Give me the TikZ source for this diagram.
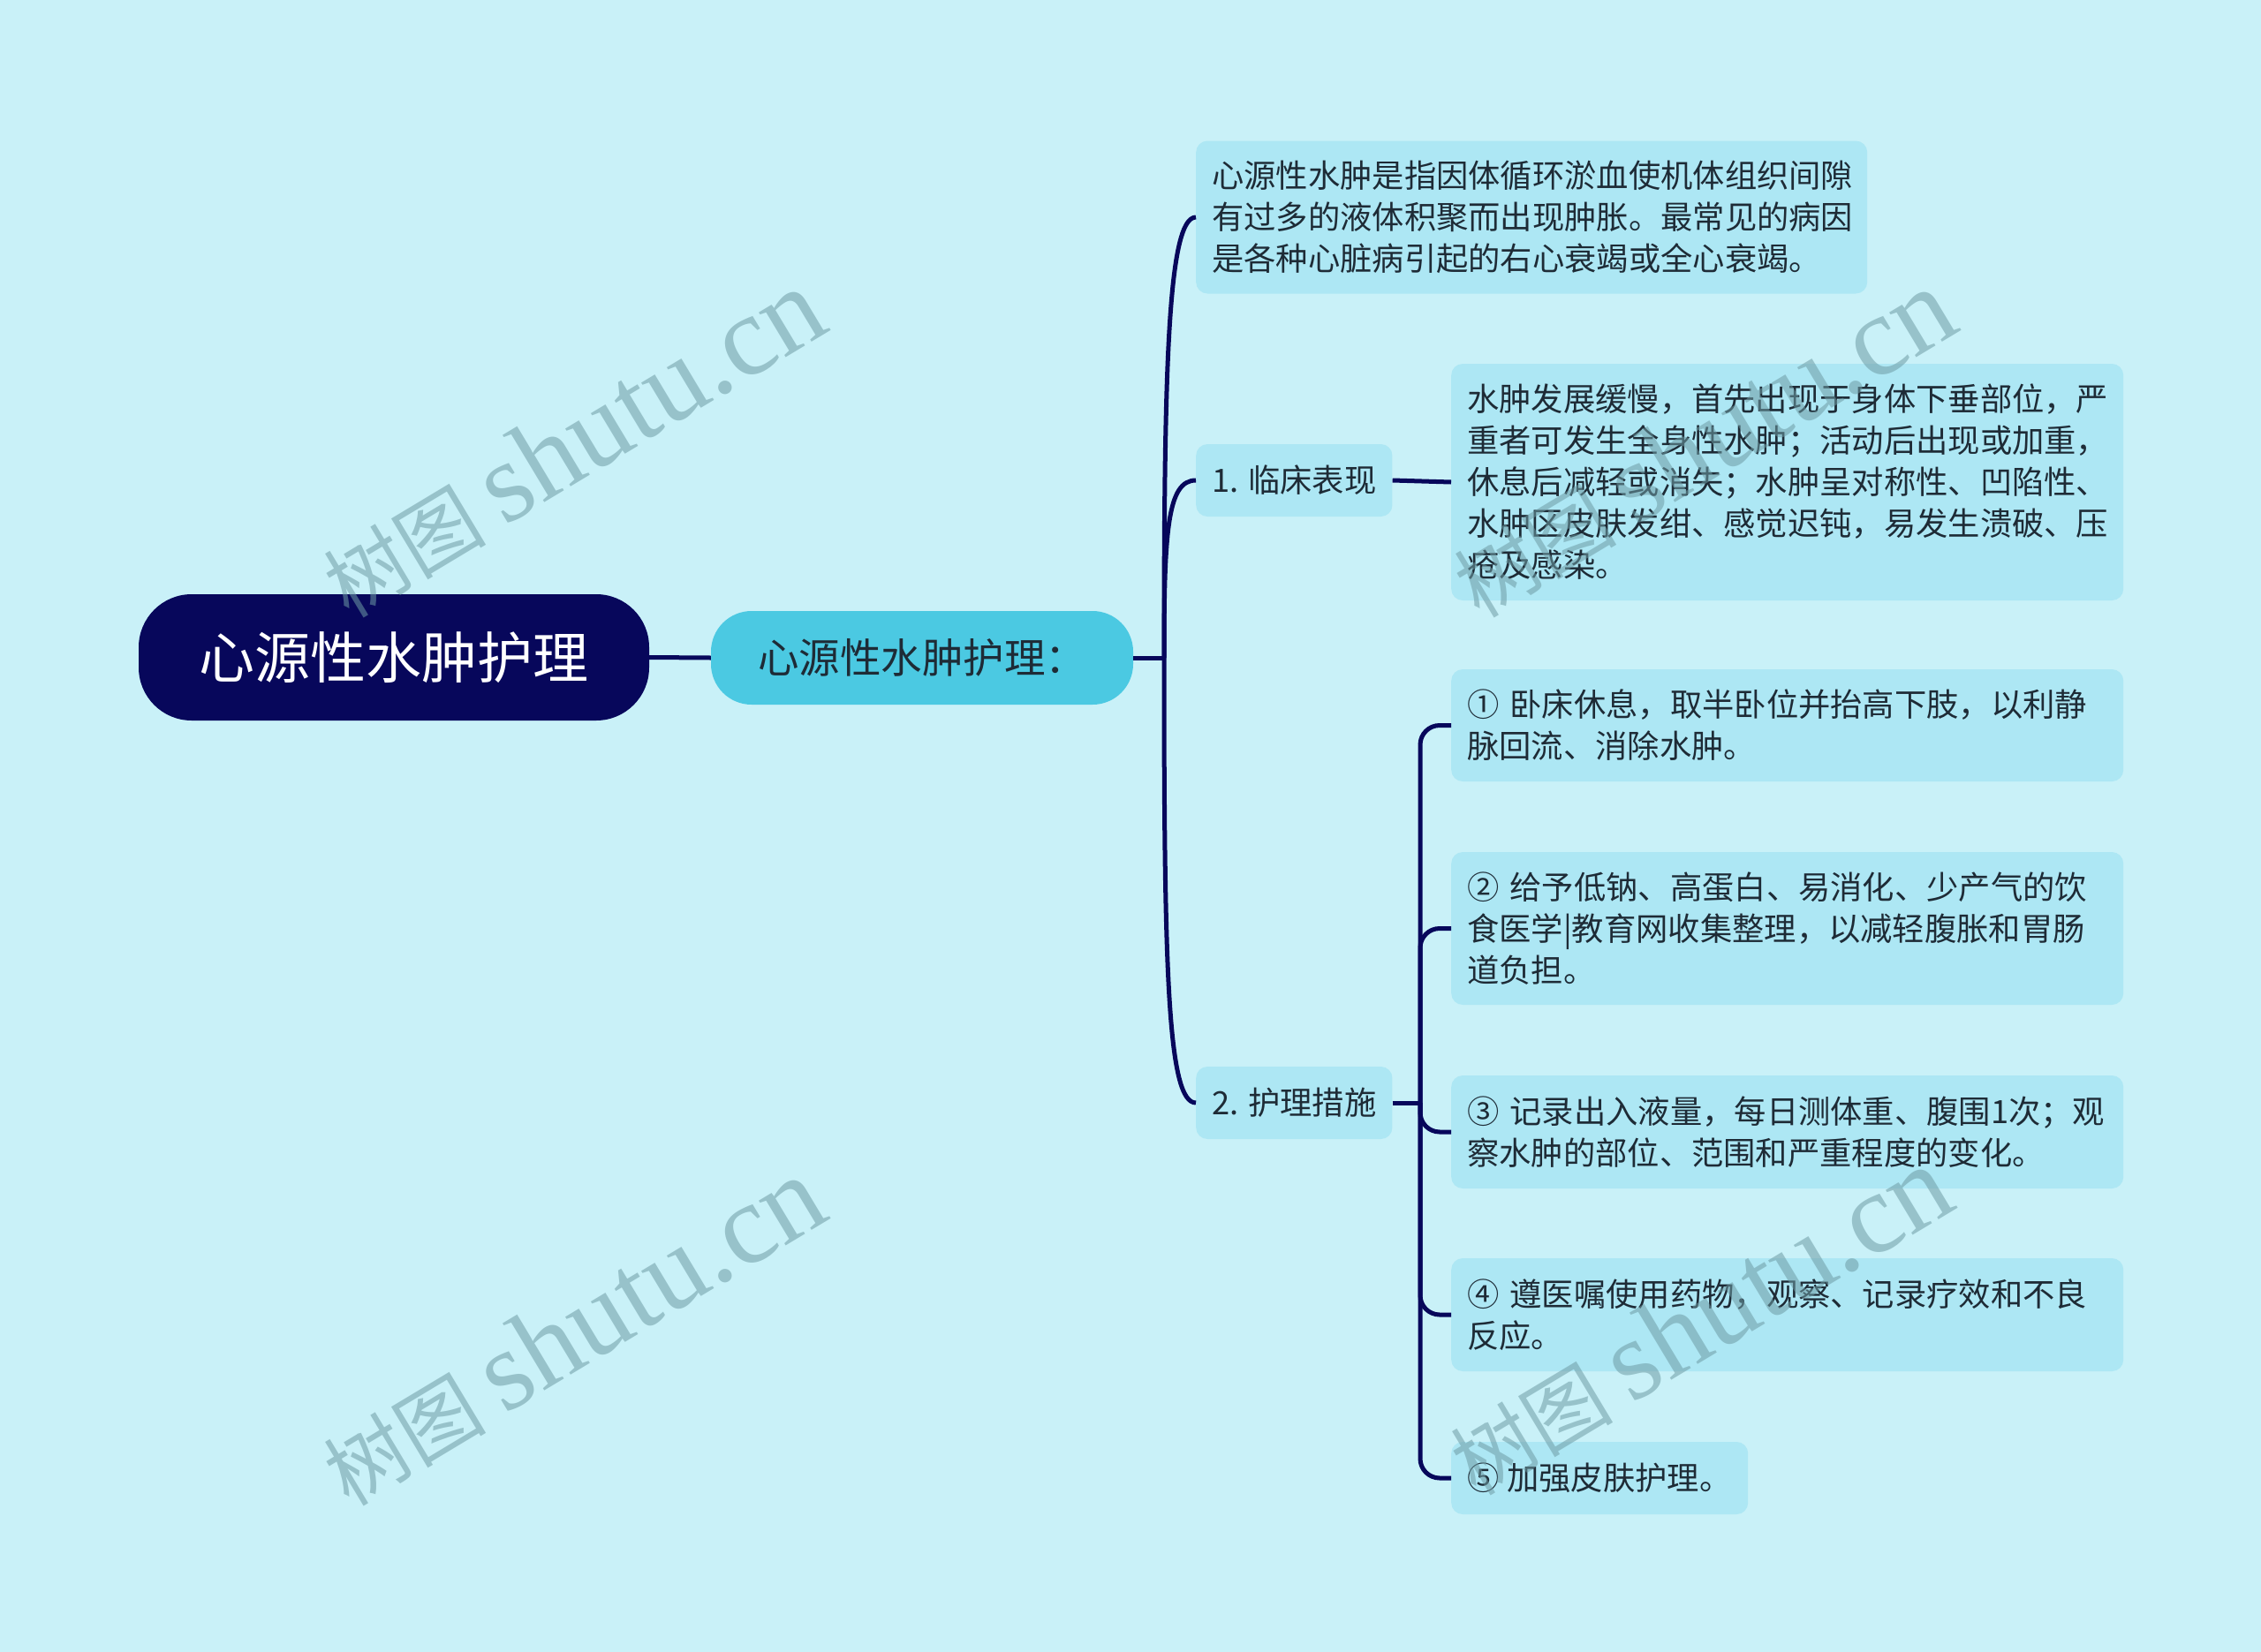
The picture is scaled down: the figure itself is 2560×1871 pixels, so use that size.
\documentclass[tikz,border=0pt]{standalone}
\usepackage{fontspec}
\setmainfont{Noto Sans CJK SC}
\newfontfamily\wmfont{Liberation Serif}
\definecolor{bgcyan}{HTML}{C9F1F8}
\definecolor{navy}{HTML}{07075B}
\definecolor{subcyan}{HTML}{4BC9E2}
\definecolor{leafblue}{HTML}{ADE7F4}
\definecolor{ink}{HTML}{1E2B36}
\definecolor{wmgray}{HTML}{6E9CA5}
\begin{document}
\begin{tikzpicture}[x=1pt, y=-1pt,
    link/.style={draw=navy, line width=5pt},
    leaf/.style={fill=leafblue, rounded corners=13pt, text=ink, anchor=west,
        inner xsep=18pt, inner ysep=0pt, font=\fontsize{36.3}{47}\selectfont},
    wmark/.style={text=wmgray, text opacity=0.55, rotate=31,
        font=\fontsize{92}{92}\selectfont}]
    \fill[bgcyan] (0,0) rectangle (2560,1871);
    \useasboundingbox (0,0) rectangle (2560,1871);
    % root and first level
    \node[fill=navy, text=white, rounded corners=60pt, minimum width=578pt,
        minimum height=143pt, font=\fontsize{63}{63}\selectfont] (root) at (446,744.5) {心源性水肿护理};
    \node[fill=subcyan, text=ink, rounded corners=46pt, minimum width=478pt,
        minimum height=106pt, font=\fontsize{46.5}{46.5}\selectfont] (sub) at (1044,745) {心源性水肿护理：};
    % second level
    \node[leaf, text width=724pt, align=left, minimum height=173pt] (def) at (1354,246)
        {心源性水肿是指因体循环淤血使机体组织间隙\\有过多的液体积聚而出现肿胀。最常见的病因\\是各种心脏病引起的右心衰竭或全心衰竭。};
    \node[leaf, align=center, minimum width=220pt, minimum height=82pt] (sign) at (1354,544) {1. 临床表现};
    \node[leaf, align=center, minimum width=220pt, minimum height=82pt] (care) at (1354,1249) {2. 护理措施};
    % third level
    \node[leaf, text width=725pt, align=left, minimum height=268pt] (signtxt) at (1643,546)
        {水肿发展缓慢，首先出现于身体下垂部位，严\\重者可发生全身性水肿；活动后出现或加重，\\休息后减轻或消失；水肿呈对称性、凹陷性、\\水肿区皮肤发绀、感觉迟钝，易发生溃破、压\\疮及感染。};
    \node[leaf, text width=725pt, align=left, minimum height=127pt] (m1) at (1643,821.5)
        {① 卧床休息，取半卧位并抬高下肢，以利静\\脉回流、消除水肿。};
    \node[leaf, text width=725pt, align=left, minimum height=173pt] (m2) at (1643,1051.5)
        {② 给予低钠、高蛋白、易消化、少产气的饮\\食医学|教育网收集整理，以减轻腹胀和胃肠\\道负担。};
    \node[leaf, text width=725pt, align=left, minimum height=128pt] (m3) at (1643,1282)
        {③ 记录出入液量，每日测体重、腹围1次；观\\察水肿的部位、范围和严重程度的变化。};
    \node[leaf, text width=725pt, align=left, minimum height=128pt] (m4) at (1643,1489)
        {④ 遵医嘱使用药物，观察、记录疗效和不良\\反应。};
    \node[leaf, inner xsep=16pt, align=left, minimum width=336pt, minimum height=82pt] (m5) at (1643,1674)
        {⑤ 加强皮肤护理。};
    % connectors
    \coordinate (hub) at (1318,745);
    \coordinate (fork) at (1608,1249);
    \draw[link] (root.east) -- (sub.west);
    \draw[link] (sub.east) -- (hub);
    \draw[link] (hub) .. controls (1318,420) and (1322,246) .. (def.west);
    \draw[link] (hub) .. controls (1318,600) and (1322,544) .. (sign.west);
    \draw[link] (hub) .. controls (1318,1100) and (1322,1249) .. (care.west);
    \draw[link] (sign.east) -- (signtxt.west);
    \draw[link] (care.east) -- (fork);
    \foreach \k in {1,...,5}{
        \draw[link, rounded corners=22pt] (fork) |- (m\k.west);
    }
    % watermarks
    \node[wmark] (wm1) at (648,502) {树图 {\wmfont\fontsize{129}{129}\selectfont shutu.cn}};
    \node[wmark] (wm2) at (1928,502) {树图 {\wmfont\fontsize{129}{129}\selectfont shutu.cn}};
    \node[wmark] (wm3) at (648,1508) {树图 {\wmfont\fontsize{129}{129}\selectfont shutu.cn}};
    \node[wmark] (wm4) at (1924,1496) {树图 {\wmfont\fontsize{129}{129}\selectfont shutu.cn}};
\end{tikzpicture}
\end{document}
